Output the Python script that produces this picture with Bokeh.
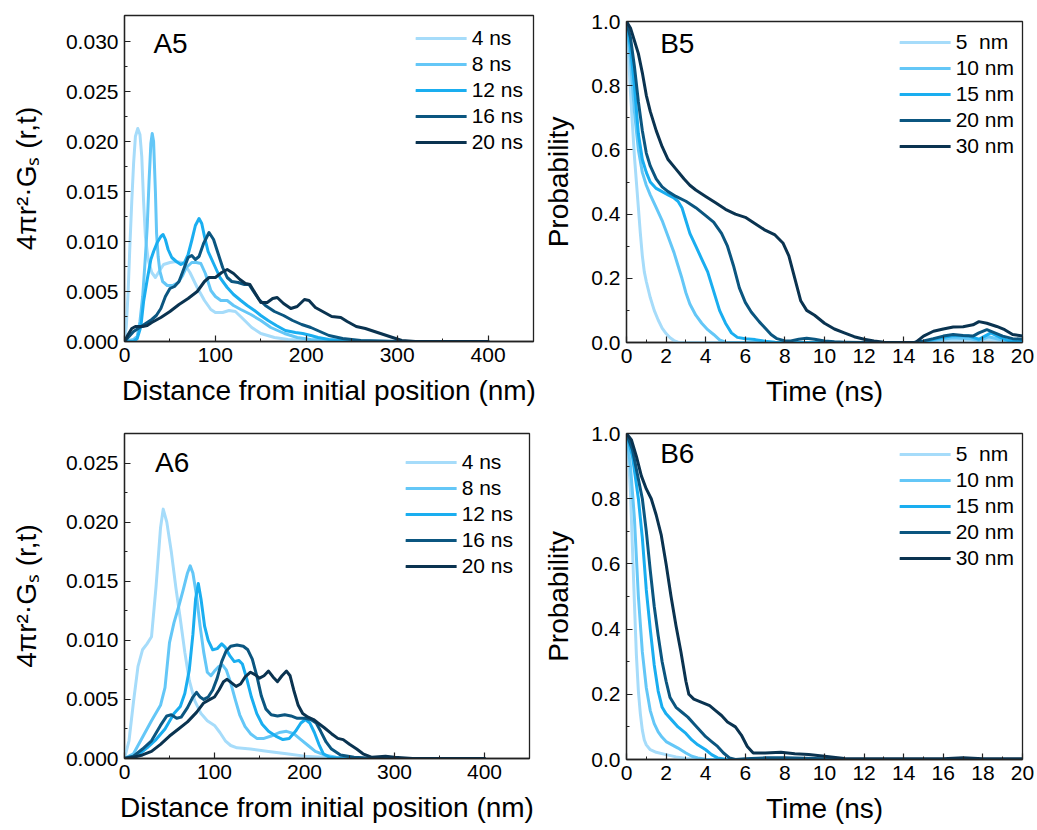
from bokeh.plotting import figure
from bokeh.models import Range1d, FixedTicker, PrintfTickFormatter, Legend, LegendItem, Label
from bokeh.layouts import column, row
from bokeh.embed import file_html
from bokeh.resources import INLINE

FONT = "Liberation Sans"
COLORS = ["#a6dcfa", "#64c7f7", "#1aaef0", "#0b5680", "#0a3350"]

# ---------------- data ----------------
A_LABELS = ["4 ns", "8 ns", "12 ns", "16 ns", "20 ns"]
B_LABELS = ["5  nm", "10 nm", "15 nm", "20 nm", "30 nm"]

# A5 : 4πr²·Gs(r,t) vs distance (nm)
a5_4_x = [0, 2, 4, 6, 8, 10, 12, 14.6, 17, 19, 21, 23, 26, 30, 34, 38, 43, 50, 57, 63, 67, 72, 80, 88, 95, 100, 108, 115, 122, 130, 140, 150, 165, 180, 200, 230, 300, 400]
a5_4_y = [0, 0.0015, 0.0050, 0.0097, 0.0140, 0.0178, 0.0205, 0.0213, 0.0207, 0.0185, 0.0140, 0.0105, 0.0082, 0.0069, 0.0064, 0.0070, 0.0077, 0.0079, 0.0080, 0.0079, 0.0076, 0.0069, 0.0054, 0.0041, 0.0032, 0.0029, 0.0029, 0.0031, 0.0030, 0.0023, 0.0014, 0.0008, 0.0004, 0.0002, 0.0001, 0, 0, 0]
a5_8_x = [0, 5, 10, 14, 17, 20, 23, 25, 27, 29, 30.5, 32, 34, 35.3, 37, 39, 42, 47, 53, 59, 64, 68, 74, 79, 84, 89, 95, 100, 106, 113, 120, 128, 139, 150, 161, 176, 190, 205, 230, 300, 400]
a5_8_y = [0, 0.0001, 0.0002, 0.0005, 0.0020, 0.0045, 0.0085, 0.0115, 0.0160, 0.0198, 0.0208, 0.0200, 0.0150, 0.0108, 0.0085, 0.0070, 0.0060, 0.0056, 0.0056, 0.0059, 0.0066, 0.0074, 0.0079, 0.0079, 0.0078, 0.0068, 0.0051, 0.0045, 0.0041, 0.0041, 0.0036, 0.0032, 0.0027, 0.0021, 0.0014, 0.0008, 0.0004, 0.0002, 0.0001, 0, 0]
a5_12_x = [0, 10, 14, 18, 21, 25, 29, 32, 36, 40, 42.5, 45, 48, 52, 57, 62, 66, 70, 74, 78, 82, 85, 88, 92, 98, 105, 113, 120, 128, 135, 143, 150, 158, 167, 177, 188, 196, 205, 213, 225, 240, 260, 400]
a5_12_y = [0, 0, 0.0003, 0.0015, 0.0040, 0.0062, 0.0082, 0.0090, 0.0099, 0.0105, 0.0107, 0.0102, 0.0092, 0.0084, 0.0080, 0.0077, 0.0079, 0.0087, 0.0101, 0.0116, 0.0123, 0.0118, 0.0105, 0.0090, 0.0078, 0.0064, 0.0054, 0.0047, 0.0041, 0.0036, 0.0031, 0.0026, 0.0021, 0.0016, 0.0011, 0.0009, 0.0008, 0.0006, 0.0004, 0.0002, 0.0001, 0, 0]
a5_16_x = [0, 5, 10, 15, 20, 25, 30, 35, 40, 45, 50, 55, 60, 65, 70, 74, 78, 82, 87, 93, 98, 103, 108, 113, 118, 125, 132, 137, 142, 148, 155, 165, 175, 185, 195, 205, 215, 225, 240, 260, 300, 400]
a5_16_y = [0, 0.0005, 0.0010, 0.0013, 0.0016, 0.0019, 0.0022, 0.0026, 0.0033, 0.0045, 0.0053, 0.0055, 0.0060, 0.0072, 0.0084, 0.0086, 0.0082, 0.0085, 0.0098, 0.0109, 0.0102, 0.0088, 0.0074, 0.0064, 0.0060, 0.0059, 0.0057, 0.0057, 0.0050, 0.0042, 0.0036, 0.0030, 0.0026, 0.0021, 0.0017, 0.0014, 0.0010, 0.0006, 0.0003, 0.0001, 0, 0]
a5_20_x = [0, 4, 8, 12, 20, 25, 30, 40, 50, 60, 70, 80, 88, 93, 100, 107, 113, 120, 127, 133, 138, 144, 150, 157, 163, 168, 175, 183, 190, 198, 203, 210, 220, 228, 238, 245, 255, 265, 275, 285, 295, 305, 320, 360, 400]
a5_20_y = [0, 0.0007, 0.0013, 0.0015, 0.0015, 0.0016, 0.0019, 0.0024, 0.0030, 0.0037, 0.0043, 0.0050, 0.0060, 0.0064, 0.0064, 0.0069, 0.0072, 0.0068, 0.0062, 0.0058, 0.0057, 0.0048, 0.0039, 0.0039, 0.0043, 0.0044, 0.0038, 0.0033, 0.0035, 0.0042, 0.0041, 0.0034, 0.0029, 0.0025, 0.0024, 0.0020, 0.0015, 0.0013, 0.0010, 0.0007, 0.0004, 0.0001, 0, 0, 0]

# A6
a6_4_x = [0, 5, 10, 15, 20, 25, 30, 35, 40, 43, 47, 52, 57, 62, 67, 72, 78, 85, 92, 100, 106, 112, 118, 125, 140, 160, 180, 200, 220, 240, 400]
a6_4_y = [0, 0.0015, 0.0048, 0.0078, 0.0092, 0.0097, 0.0103, 0.0145, 0.0195, 0.0211, 0.0200, 0.0175, 0.0145, 0.0118, 0.0090, 0.0066, 0.0049, 0.0038, 0.0032, 0.0028, 0.0022, 0.0015, 0.0011, 0.0009, 0.0008, 0.0006, 0.0004, 0.0002, 0.0001, 0, 0]
a6_8_x = [0, 10, 20, 30, 40, 45, 50, 55, 60, 65, 70, 73, 76, 80, 84, 88, 92, 96, 100, 105, 109, 113, 118, 123, 128, 134, 140, 147, 155, 163, 172, 180, 188, 196, 204, 212, 222, 235, 260, 400]
a6_8_y = [0, 0.0004, 0.0018, 0.0032, 0.0045, 0.0060, 0.0098, 0.0115, 0.0128, 0.0142, 0.0157, 0.0163, 0.0157, 0.0138, 0.0112, 0.0090, 0.0073, 0.0070, 0.0074, 0.0078, 0.0079, 0.0075, 0.0064, 0.0050, 0.0037, 0.0027, 0.0021, 0.0017, 0.0017, 0.0019, 0.0022, 0.0023, 0.0021, 0.0016, 0.0011, 0.0006, 0.0003, 0.0001, 0, 0]
a6_12_x = [0, 15, 25, 35, 45, 55, 62, 67, 72, 76, 79, 82, 85, 89, 93, 98, 103, 108, 112, 117, 122, 127, 131, 136, 141, 147, 153, 160, 168, 176, 183, 190, 196, 201, 206, 211, 216, 221, 228, 240, 400]
a6_12_y = [0, 0.0003, 0.0009, 0.0016, 0.0025, 0.0038, 0.0044, 0.0055, 0.0075, 0.0105, 0.0135, 0.0148, 0.0135, 0.0112, 0.0100, 0.0092, 0.0093, 0.0097, 0.0094, 0.0087, 0.0082, 0.0083, 0.0080, 0.0067, 0.0052, 0.0038, 0.0029, 0.0023, 0.0019, 0.0016, 0.0017, 0.0023, 0.0030, 0.0033, 0.0030, 0.0022, 0.0012, 0.0004, 0.0001, 0, 0]
a6_16_x = [0, 10, 20, 30, 40, 47, 52, 58, 63, 70, 76, 80, 84, 88, 93, 98, 103, 108, 113, 118, 125, 132, 137, 142, 147, 152, 157, 163, 170, 178, 185, 192, 200, 207, 213, 218, 224, 230, 240, 255, 280, 400]
a6_16_y = [0, 0.0002, 0.0008, 0.0015, 0.0028, 0.0036, 0.0037, 0.0034, 0.0035, 0.0043, 0.0052, 0.0056, 0.0052, 0.0050, 0.0052, 0.0058, 0.0068, 0.0082, 0.0091, 0.0095, 0.0096, 0.0095, 0.0092, 0.0084, 0.0070, 0.0053, 0.0042, 0.0037, 0.0036, 0.0037, 0.0036, 0.0034, 0.0034, 0.0033, 0.0030, 0.0023, 0.0014, 0.0008, 0.0003, 0.0001, 0, 0]
a6_20_x = [0, 10, 20, 30, 40, 50, 60, 70, 80, 88, 95, 100, 105, 110, 114, 119, 124, 129, 134, 140, 145, 150, 155, 160, 165, 170, 175, 180, 184, 188, 193, 198, 204, 210, 215, 222, 230, 237, 243, 250, 258, 265, 275, 290, 300, 320, 400]
a6_20_y = [0, 0.0001, 0.0003, 0.0006, 0.0012, 0.0019, 0.0025, 0.0031, 0.0039, 0.0047, 0.0050, 0.0052, 0.0058, 0.0065, 0.0067, 0.0064, 0.0061, 0.0063, 0.0069, 0.0073, 0.0071, 0.0068, 0.0070, 0.0074, 0.0069, 0.0065, 0.0070, 0.0074, 0.0070, 0.0058, 0.0045, 0.0038, 0.0035, 0.0033, 0.0030, 0.0026, 0.0021, 0.0017, 0.0016, 0.0012, 0.0008, 0.0004, 0.0001, 0.0002, 0.0001, 0, 0]

# B5 : probability vs time (ns)
b5_5_x = [0, 0.1, 0.2, 0.3, 0.4, 0.5, 0.6, 0.7, 0.8, 0.9, 1.0, 1.2, 1.4, 1.6, 1.8, 2.0, 2.2, 2.4, 2.6, 3.0, 15.0, 15.5, 16.5, 17.5, 18.3, 19.0, 20.0]
b5_5_y = [1.0, 0.90, 0.78, 0.68, 0.58, 0.50, 0.42, 0.34, 0.27, 0.22, 0.19, 0.14, 0.10, 0.07, 0.045, 0.028, 0.015, 0.006, 0.001, 0, 0, 0.003, 0.008, 0.006, 0.010, 0.004, 0.003]
b5_10_x = [0, 0.2, 0.4, 0.6, 0.8, 1.0, 1.2, 1.5, 1.8, 2.1, 2.4, 2.6, 2.8, 3.0, 3.2, 3.5, 3.8, 4.1, 4.4, 4.7, 5.0, 6.0, 15.0, 15.5, 16.5, 17.3, 17.8, 18.3, 18.8, 19.3, 20.0]
b5_10_y = [1.0, 0.88, 0.72, 0.60, 0.53, 0.49, 0.46, 0.42, 0.38, 0.33, 0.28, 0.24, 0.20, 0.155, 0.12, 0.085, 0.06, 0.04, 0.025, 0.008, 0.001, 0, 0, 0.006, 0.015, 0.012, 0.006, 0.018, 0.010, 0.004, 0.003]
b5_15_x = [0, 0.2, 0.4, 0.6, 0.8, 1.0, 1.2, 1.5, 1.8, 2.1, 2.4, 2.6, 2.8, 3.0, 3.2, 3.5, 3.8, 4.1, 4.4, 4.7, 5.0, 5.3, 5.6, 6.0, 6.5, 7.0, 7.5, 8.0, 15.0, 15.5, 16.5, 17.3, 17.8, 18.4, 18.9, 19.3, 20.0]
b5_15_y = [1.0, 0.92, 0.80, 0.65, 0.57, 0.53, 0.50, 0.48, 0.47, 0.46, 0.45, 0.44, 0.42, 0.38, 0.34, 0.30, 0.26, 0.22, 0.16, 0.10, 0.06, 0.03, 0.016, 0.012, 0.009, 0.004, 0.001, 0, 0.001, 0.010, 0.022, 0.020, 0.010, 0.030, 0.015, 0.006, 0.004]
b5_20_x = [0, 0.2, 0.4, 0.6, 0.8, 1.0, 1.2, 1.5, 1.8, 2.1, 2.5, 3.0, 3.5, 4.0, 4.4, 4.8, 5.1, 5.4, 5.7, 6.0, 6.3, 6.7, 7.0, 7.3, 7.6, 8.0, 8.3, 8.7, 9.1, 9.5, 10.0, 10.5, 11.0, 12.0, 14.5, 15.0, 15.5, 16.0, 16.5, 17.0, 17.5, 17.8, 18.2, 18.6, 19.0, 19.5, 20.0]
b5_20_y = [1.0, 0.95, 0.86, 0.75, 0.66, 0.59, 0.55, 0.51, 0.485, 0.47, 0.455, 0.44, 0.42, 0.395, 0.375, 0.34, 0.30, 0.24, 0.17, 0.125, 0.095, 0.065, 0.045, 0.025, 0.012, 0.005, 0.005, 0.010, 0.013, 0.010, 0.005, 0.002, 0.001, 0, 0, 0.005, 0.012, 0.020, 0.025, 0.022, 0.020, 0.030, 0.040, 0.030, 0.020, 0.012, 0.010]
b5_30_x = [0, 0.2, 0.4, 0.6, 0.8, 1.0, 1.2, 1.5, 1.8, 2.1, 2.5, 2.9, 3.2, 3.5, 4.0, 4.5, 5.0, 5.5, 6.0, 6.5, 7.0, 7.5, 7.9, 8.2, 8.5, 8.8, 9.1, 9.5, 10.0, 10.5, 11.0, 11.5, 12.0, 12.5, 13.0, 14.0, 14.6, 15.0, 15.5, 16.0, 16.5, 17.0, 17.5, 17.8, 18.2, 18.7, 19.1, 19.5, 20.0]
b5_30_y = [1.0, 0.98, 0.94, 0.90, 0.84, 0.77, 0.72, 0.66, 0.61, 0.57, 0.54, 0.51, 0.49, 0.475, 0.455, 0.435, 0.415, 0.40, 0.39, 0.37, 0.35, 0.335, 0.31, 0.27, 0.20, 0.13, 0.10, 0.085, 0.06, 0.042, 0.03, 0.018, 0.01, 0.005, 0.001, 0, 0, 0.02, 0.035, 0.042, 0.048, 0.049, 0.055, 0.065, 0.060, 0.050, 0.040, 0.025, 0.020]

# B6
b6_5_x = [0, 0.1, 0.2, 0.3, 0.4, 0.5, 0.6, 0.7, 0.8, 0.9, 1.0, 1.2, 1.5, 2.0, 2.5, 3.0, 3.5, 4.0, 20.0]
b6_5_y = [1.0, 0.93, 0.82, 0.65, 0.48, 0.32, 0.21, 0.14, 0.09, 0.06, 0.045, 0.03, 0.022, 0.015, 0.008, 0.003, 0.001, 0, 0]
b6_10_x = [0, 0.2, 0.4, 0.6, 0.8, 1.0, 1.2, 1.4, 1.6, 1.8, 2.0, 2.3, 2.6, 3.0, 3.3, 3.6, 4.0, 4.5, 20.0]
b6_10_y = [1.0, 0.90, 0.74, 0.50, 0.33, 0.22, 0.15, 0.11, 0.085, 0.068, 0.055, 0.045, 0.035, 0.02, 0.01, 0.005, 0.001, 0, 0]
b6_15_x = [0, 0.3, 0.6, 0.8, 1.0, 1.2, 1.4, 1.6, 1.8, 2.0, 2.3, 2.6, 3.0, 3.3, 3.6, 4.0, 4.3, 4.6, 5.0, 5.5, 20.0]
b6_15_y = [1.0, 0.93, 0.80, 0.68, 0.52, 0.40, 0.29, 0.21, 0.16, 0.14, 0.12, 0.10, 0.08, 0.06, 0.045, 0.03, 0.015, 0.005, 0.001, 0, 0]
b6_20_x = [0, 0.3, 0.6, 0.8, 1.0, 1.2, 1.4, 1.6, 1.8, 2.0, 2.2, 2.5, 2.8, 3.1, 3.4, 3.7, 4.0, 4.3, 4.6, 4.9, 5.2, 5.5, 6.0, 7.0, 8.0, 9.0, 10.0, 11.0, 20.0]
b6_20_y = [1.0, 0.95, 0.86, 0.80, 0.70, 0.58, 0.47, 0.38, 0.30, 0.24, 0.19, 0.16, 0.145, 0.13, 0.11, 0.09, 0.07, 0.055, 0.04, 0.02, 0.005, 0, 0.002, 0.005, 0.005, 0.004, 0.002, 0, 0]
b6_30_x = [0, 0.25, 0.5, 0.75, 1.0, 1.25, 1.5, 1.75, 2.0, 2.25, 2.5, 2.75, 3.0, 3.15, 3.4, 3.8, 4.2, 4.5, 4.8, 5.1, 5.5, 5.8, 6.1, 6.4, 7.0, 7.8, 8.5, 9.2, 10.0, 11.0, 12.0, 14.0, 16.0, 17.0, 18.0, 20.0]
b6_30_y = [1.0, 0.98, 0.93, 0.87, 0.83, 0.80, 0.75, 0.69, 0.60, 0.50, 0.41, 0.33, 0.24, 0.20, 0.185, 0.175, 0.165, 0.15, 0.135, 0.115, 0.10, 0.075, 0.04, 0.02, 0.02, 0.022, 0.018, 0.015, 0.01, 0.003, 0.002, 0.002, 0.002, 0.005, 0.002, 0.002]

A_TICKS = [0, 100, 200, 300, 400]
A_MINOR = [50, 150, 250, 350]
A5_YTICKS = [0, 0.005, 0.010, 0.015, 0.020, 0.025, 0.030]
A5_YMINOR = [0.0025, 0.0075, 0.0125, 0.0175, 0.0225, 0.0275]
A6_YTICKS = [0, 0.005, 0.010, 0.015, 0.020, 0.025]
A6_YMINOR = [0.0025, 0.0075, 0.0125, 0.0175, 0.0225]
B_XTICKS = list(range(0, 21, 2))
B_XMINOR = list(range(1, 20, 2))
B_YTICKS = [0, 0.2, 0.4, 0.6, 0.8, 1.0]
B_YMINOR = [0.1, 0.3, 0.5, 0.7, 0.9]


def make_panel(w, h, borders, xr, yr, xt, xm, yt, ym, xfmt, yfmt, xlabel, ylabel,
               ystand, series, labels, legend_margin, tag, tag_xy):
    bl, br, bt, bb = borders
    p = figure(width=w, height=h, x_range=Range1d(*xr), y_range=Range1d(*yr),
               output_backend="svg", toolbar_location=None, tools="", title=None,
               min_border_left=bl, min_border_right=br, min_border_top=bt, min_border_bottom=bb)
    p.xgrid.visible = False
    p.ygrid.visible = False
    p.outline_line_color = "#222222"
    p.outline_line_width = 1.3
    p.outline_line_alpha = 1.0
    p.background_fill_color = "white"
    p.border_fill_color = "white"

    p.xaxis.ticker = FixedTicker(ticks=xt, minor_ticks=xm)
    p.yaxis.ticker = FixedTicker(ticks=yt, minor_ticks=ym)
    p.xaxis.formatter = PrintfTickFormatter(format=xfmt)
    p.yaxis.formatter = PrintfTickFormatter(format=yfmt)
    for ax in (p.xaxis[0], p.yaxis[0]):
        ax.axis_line_color = "#222222"
        ax.axis_line_width = 1.3
        ax.major_tick_in = 6
        ax.major_tick_out = 0
        ax.minor_tick_in = 3
        ax.minor_tick_out = 0
        ax.major_tick_line_color = "#222222"
        ax.minor_tick_line_color = "#222222"
        ax.major_tick_line_width = 1.2
        ax.major_label_text_font = FONT
        ax.major_label_text_font_size = "21px"
        ax.major_label_text_color = "black"
        ax.major_label_standoff = 6
        ax.axis_label_text_font = FONT
        ax.axis_label_text_font_size = "28px"
        ax.axis_label_text_font_style = "normal"
        ax.axis_label_text_color = "black"
    p.xaxis.axis_label = xlabel
    p.yaxis.axis_label = ylabel
    p.yaxis.axis_label_standoff = ystand
    p.xaxis.axis_label_standoff = 10

    items = []
    for (xs, ys), lab, col in zip(series, labels, COLORS):
        r = p.line(xs, ys, line_width=3, line_color=col, line_join="round", line_cap="round")
        items.append(LegendItem(label=lab, renderers=[r]))
    leg = Legend(items=items, location="top_right", margin=legend_margin, padding=0,
                 spacing=0, glyph_width=51, glyph_height=26, label_height=26,
                 label_standoff=5, label_text_font=FONT, label_text_font_size="21px",
                 label_text_color="black", background_fill_alpha=0, border_line_alpha=0)
    p.add_layout(leg)
    p.add_layout(Label(x=tag_xy[0], y=tag_xy[1], text=tag, text_font=FONT,
                       text_font_size="28px", text_baseline="middle", text_align="left",
                       text_color="black"))
    return p


YLAB_A = "4πr²·Gₛ (r,t)"
XLAB_A = "Distance from initial position (nm)"

p1 = make_panel(540, 420, (124, 7, 15, 79), (0, 450), (0, 0.0326), A_TICKS, A_MINOR,
                A5_YTICKS, A5_YMINOR, "%d", "%.3f", XLAB_A, YLAB_A, 21,
                [(a5_4_x, a5_4_y), (a5_8_x, a5_8_y), (a5_12_x, a5_12_y), (a5_16_x, a5_16_y), (a5_20_x, a5_20_y)],
                A_LABELS, 10, "A5", (31.8, 0.0298))
p2 = make_panel(497, 420, (82, 15, 21, 78), (0, 20), (0, 1.0), B_XTICKS, B_XMINOR,
                B_YTICKS, B_YMINOR, "%d", "%.1f", "Time (ns)", "Probability", 14,
                [(b5_5_x, b5_5_y), (b5_10_x, b5_10_y), (b5_15_x, b5_15_y), (b5_20_x, b5_20_y), (b5_30_x, b5_30_y)],
                B_LABELS, 8, "B5", (1.7, 0.931))
p3 = make_panel(540, 410, (124, 11, 13, 72), (0, 450), (0, 0.0275), A_TICKS, A_MINOR,
                A6_YTICKS, A6_YMINOR, "%d", "%.3f", XLAB_A, YLAB_A, 21,
                [(a6_4_x, a6_4_y), (a6_8_x, a6_8_y), (a6_12_x, a6_12_y), (a6_16_x, a6_16_y), (a6_20_x, a6_20_y)],
                A_LABELS, 16, "A6", (34, 0.02505))
p4 = make_panel(497, 410, (81, 15, 13, 71), (0, 20), (0, 1.0), B_XTICKS, B_XMINOR,
                B_YTICKS, B_YMINOR, "%d", "%.1f", "Time (ns)", "Probability", 14,
                [(b6_5_x, b6_5_y), (b6_10_x, b6_10_y), (b6_15_x, b6_15_y), (b6_20_x, b6_20_y), (b6_30_x, b6_30_y)],
                B_LABELS, 8, "B6", (1.7, 0.939))

layout = column(row(column(p1), column(p2), spacing=0),
                row(column(p3), column(p4), spacing=0), spacing=0)
open("out.html", "w").write(file_html(layout, INLINE))
